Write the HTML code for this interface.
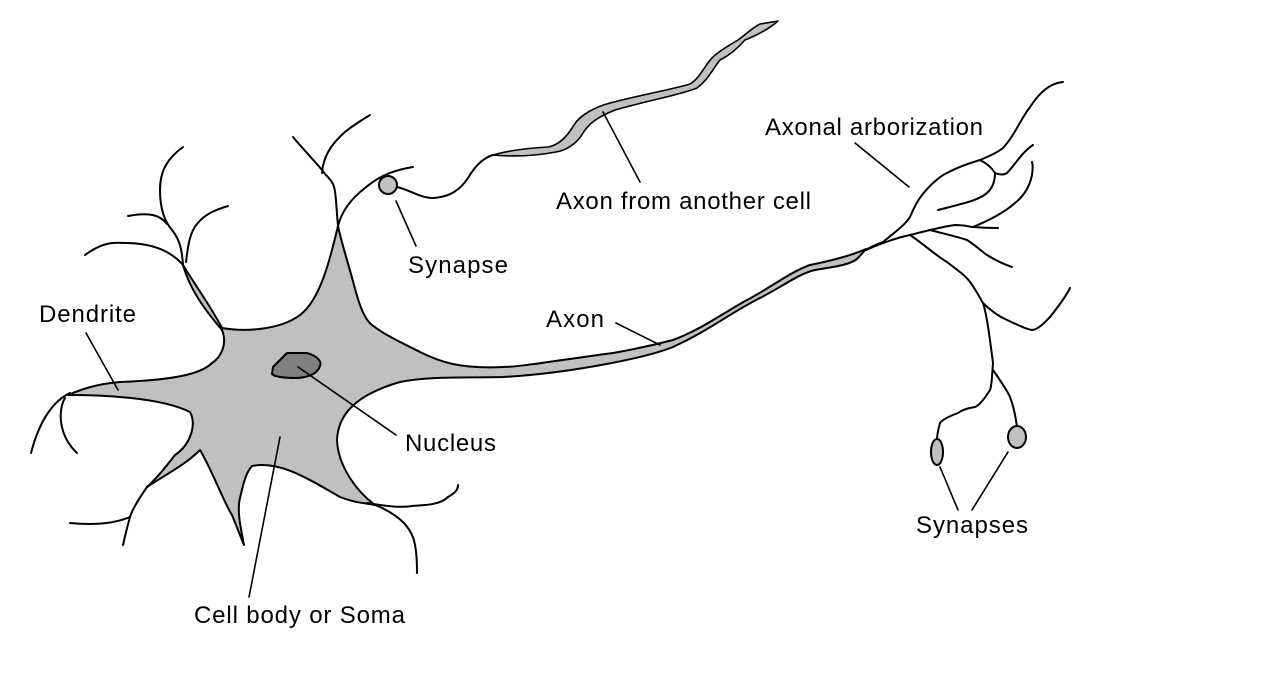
<!DOCTYPE html>
<html><head><meta charset="utf-8"><style>
html,body{margin:0;padding:0;background:#fff;}
svg{display:block;}
text{font-family:"Liberation Sans",Arial,sans-serif;font-size:24px;fill:#000;}
</style></head><body>
<svg width="1275" height="684" viewBox="0 0 1275 684" xmlns="http://www.w3.org/2000/svg">
<g fill="none" stroke="#000" stroke-width="2" stroke-linecap="round" stroke-linejoin="round">
<path fill="#c0c0c0" d="M183,265 C190,290 205,310 222,330 C228,345 220,358 212,363 C200,375 170,380 120,382 C95,384 80,390 68,395 C100,395 160,397 190,412 C197,425 190,445 175,455 C165,468 155,480 147,487 C165,475 185,465 200,450 C212,470 225,505 232,515 L244,545 C240,525 237,510 240,498 C243,485 246,472 252,466 C280,460 310,480 340,497 C355,503 365,503 375,505 C355,490 338,465 337,440 C338,415 355,395 400,382 C430,376 460,378 503,377 C560,374 640,360 673,347 C710,330 730,313 760,298 C780,288 800,273 815,270 C840,266 852,264 858,258 L866,249 C850,256 825,262 810,265 C790,272 770,288 747,300 C720,315 700,330 673,340 C650,346 630,350 613,353 C560,360 520,367 503,367 C460,369 440,362 420,352 C400,342 385,335 372,325 C363,318 358,300 354,285 C348,262 342,245 338,226 C330,260 320,300 300,315 C280,330 245,332 222,328 C210,305 195,285 183,265 Z"/>
<path fill="#808080" d="M273,367 L287,353 L307,353 C318,356 322,362 320,366 C318,372 312,377 297,378 C285,378 275,377 272,374 Z"/>
<path d="M183,265 C182,250 180,240 172,230 C165,222 160,210 160,190 C160,170 168,158 183,147"/>
<path d="M167,224 C160,215 150,212 128,216"/>
<path d="M186,262 C188,245 190,232 197,224 C205,214 215,210 228,206"/>
<path d="M183,265 C170,250 150,243 125,243 C110,242 100,244 85,255"/>
<path d="M338,226 C336,205 336,190 333,184 C330,178 326,176 322,170 C312,158 302,148 293,137"/>
<path d="M322,173 C323,158 330,145 345,132 C352,126 362,120 370,115"/>
<path d="M338,226 C342,210 352,198 365,188 C380,175 395,170 413,167"/>
<path d="M70,393 C55,400 40,418 31,453"/>
<path d="M65,398 C58,410 58,435 77,453"/>
<path d="M147,487 C138,500 132,510 130,517 C127,528 125,536 123,545"/>
<path d="M130,517 C118,522 100,526 70,523"/>
<path d="M367,503 C385,506 400,508 412,506 C425,505 440,505 448,497 C455,493 458,490 458,485"/>
<path d="M370,503 C395,512 412,525 415,545 C417,555 417,565 417,573"/>
<circle cx="388" cy="185" r="9" fill="#c0c0c0"/>
<path d="M397,187 C410,190 420,198 433,198 C450,197 460,190 468,178 C475,166 483,158 493,155"/>
<path fill="#c0c0c0" stroke-width="1.6" d="M493,155 C510,150 530,148 548,147 C560,145 568,135 574,125 C580,115 595,107 610,103 C640,95 670,90 690,84 C700,78 705,65 712,58 C720,50 730,45 738,40 C745,35 752,28 760,24 L778,21 C770,28 760,34 745,40 C738,48 730,55 720,60 C712,70 708,80 697,88 C680,95 650,100 615,110 C595,118 588,125 583,133 C578,142 568,150 556,152 C535,156 515,157 493,155 Z"/>
<path d="M866,250 C872,246 878,244 883,242 C895,232 905,225 910,217 C915,205 918,200 922,195 C930,185 940,176 947,173 C958,167 970,163 980,160 C990,156 998,152 1003,148 C1015,135 1020,120 1030,107 C1040,92 1050,83 1063,82"/>
<path d="M980,160 C988,164 992,168 995,173 C999,175 1004,175 1007,173 C1015,165 1022,152 1033,145"/>
<path d="M995,173 C995,180 993,187 988,192 C980,200 965,203 938,210"/>
<path d="M866,250 C880,244 895,238 910,235 C930,230 945,226 955,225 C965,225 970,227 973,227 C985,228 995,228 998,228"/>
<path d="M973,227 C990,220 1005,212 1015,203 C1025,195 1030,185 1032,175 C1033,168 1033,165 1032,162"/>
<path d="M930,230 C945,234 958,237 967,240 C975,245 980,250 987,255 C995,260 1003,264 1012,267"/>
<path d="M910,235 C925,245 935,255 947,262 C957,270 965,275 970,282 C976,290 980,298 983,303 C987,315 990,340 993,363"/>
<path d="M983,303 C990,310 998,316 1007,320 C1018,325 1028,330 1033,330 C1040,328 1045,322 1050,317 C1058,307 1065,298 1070,288"/>
<path d="M993,363 C992,375 992,385 990,390 C985,398 980,405 975,407 C968,408 962,410 958,413 C950,416 942,420 940,423 C938,430 937,435 937,440"/>
<path d="M993,370 C1000,380 1007,390 1010,397 C1015,410 1016,420 1017,427"/>
<ellipse cx="937" cy="452" rx="6" ry="13" fill="#c0c0c0"/>
<ellipse cx="1017" cy="437" rx="9" ry="11" fill="#c0c0c0"/>
<g stroke-width="1.6">
<path d="M855,143 L909,187"/>
<path d="M603,112 L640,182"/>
<path d="M396,201 L416,246"/>
<path d="M86,333 L118,390"/>
<path d="M616,323 L660,345"/>
<path d="M298,367 L396,435"/>
<path d="M280,437 L249,597"/>
<path d="M940,467 L958,510"/>
<path d="M1008,452 L972,510"/>
</g>
</g>
<text x="765" y="135" textLength="218">Axonal arborization</text>
<text x="556" y="209" textLength="255">Axon from another cell</text>
<text x="408" y="273" textLength="100">Synapse</text>
<text x="39" y="322" textLength="97">Dendrite</text>
<text x="546" y="327" textLength="58">Axon</text>
<text x="405" y="451" textLength="91">Nucleus</text>
<text x="194" y="623" textLength="211">Cell body or Soma</text>
<text x="916" y="533" textLength="112">Synapses</text>
</svg>
</body></html>
